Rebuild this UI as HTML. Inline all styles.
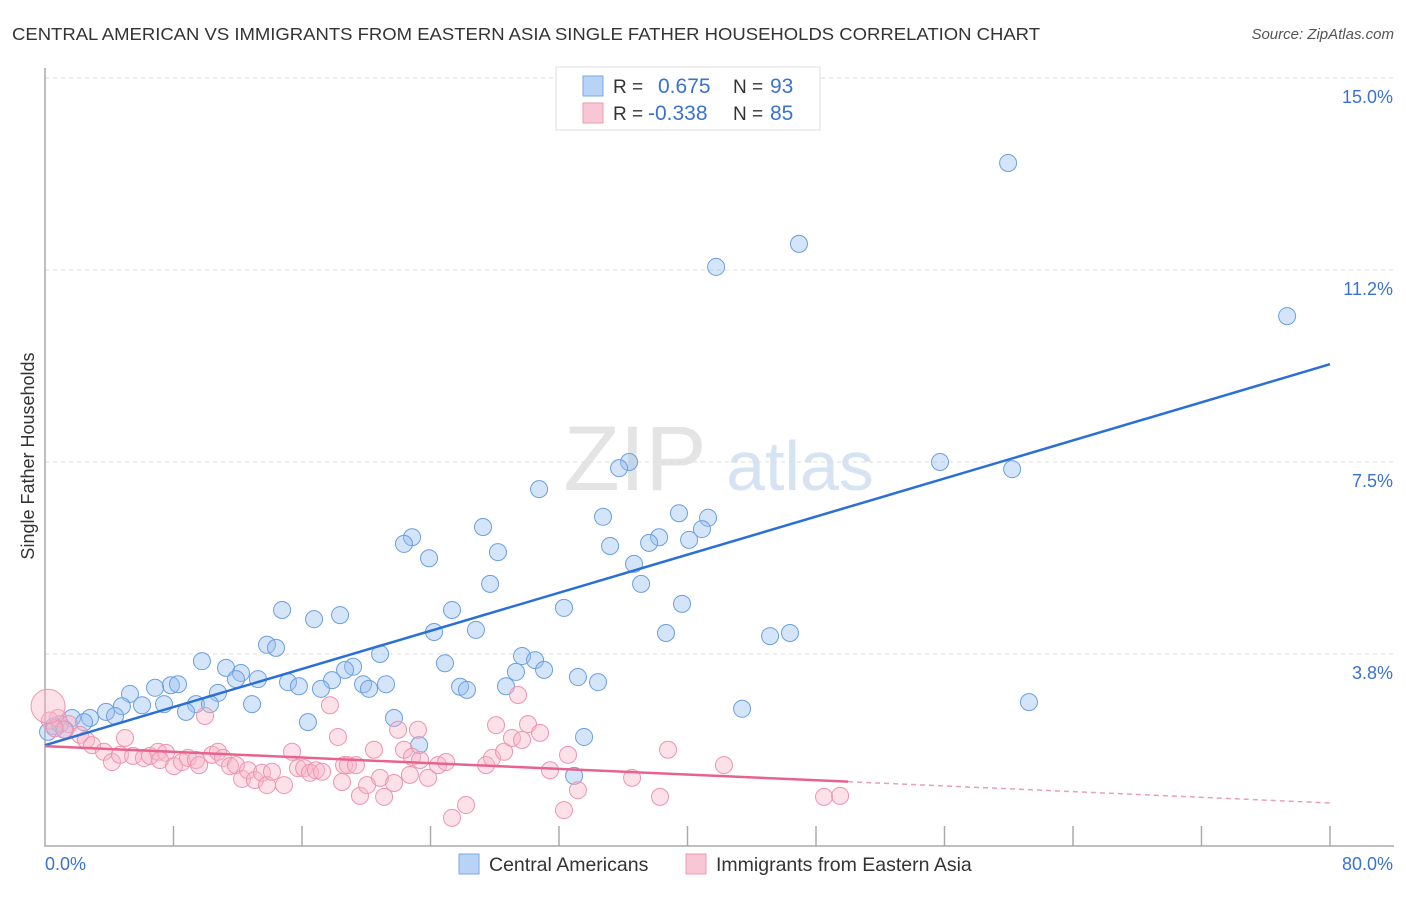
<!DOCTYPE html>
<html><head><meta charset="utf-8"><style>
body{margin:0;background:#fff;font-family:"Liberation Sans",sans-serif;}
svg text{font-family:"Liberation Sans",sans-serif;}
</style></head><body>
<svg id="chart" width="1406" height="892" viewBox="0 0 1406 892">
<text x="12" y="40" font-size="17.5" fill="#333" textLength="1028" lengthAdjust="spacingAndGlyphs">CENTRAL AMERICAN VS IMMIGRANTS FROM EASTERN ASIA SINGLE FATHER HOUSEHOLDS CORRELATION CHART</text>
<text x="1394" y="39" font-size="15" fill="#555" font-style="italic" text-anchor="end">Source: ZipAtlas.com</text>
<text x="635" y="490" font-size="92" fill="#e4e4e4" font-family="Liberation Serif" text-anchor="middle">ZIP</text>
<text x="800" y="490" font-size="70" fill="#d6e3f3" text-anchor="middle">atlas</text>
<text transform="translate(34,456) rotate(-90)" font-size="18" fill="#333" text-anchor="middle">Single Father Households</text>
<g id="grid"></g><g id="axes"></g><g id="pts"></g><g id="trend"></g>
<g>
<rect x="556" y="67" width="264" height="63" fill="#fff" stroke="#ddd"/>
<rect x="583" y="76" width="20" height="20" fill="#b8d3f5" stroke="#7aa8e3"/>
<rect x="583" y="103" width="20" height="20" fill="#f9c6d5" stroke="#ee9ab3"/>
<text x="613" y="93" font-size="19" fill="#333">R = </text><text x="658" y="93" font-size="21" fill="#3a72d0">0.675</text>
<text x="733" y="93" font-size="19" fill="#333">N = </text><text x="770" y="93" font-size="21" fill="#3a72d0">93</text>
<text x="613" y="120" font-size="19" fill="#333">R = </text><text x="648" y="120" font-size="21" fill="#3a72d0">-0.338</text>
<text x="733" y="120" font-size="19" fill="#333">N = </text><text x="770" y="120" font-size="21" fill="#3a72d0">85</text>
</g>
<g>
<rect x="459" y="854" width="20" height="20" fill="#b8d3f5" stroke="#7aa8e3"/>
<text x="489" y="871" font-size="19.5" fill="#333">Central Americans</text>
<rect x="686" y="854" width="20" height="20" fill="#f9c6d5" stroke="#ee9ab3"/>
<text x="716" y="871" font-size="19.5" fill="#333">Immigrants from Eastern Asia</text>
</g>
</svg>
<script>
const blueX=[59.96,46.94,41.78,77.33,55.72,60.21,36.36,35.74,30.76,39.47,41.28,34.74,27.27,40.90,22.85,22.35,40.10,38.23,37.61,35.18,28.20,23.91,36.67,27.71,37.11,14.76,25.34,32.31,39.66,16.75,18.37,24.22,26.83,38.66,45.14,46.38,13.82,14.38,20.86,29.70,30.51,9.77,24.90,11.27,19.18,12.20,18.68,31.07,29.32,33.18,11.89,13.26,17.87,15.13,34.43,19.80,21.23,7.84,8.28,25.84,15.81,17.18,6.85,20.17,26.27,28.70,5.29,10.77,9.40,10.27,61.26,12.89,6.04,7.41,4.79,8.78,3.80,43.40,4.36,1.68,21.73,2.80,16.37,2.43,0.93,0.56,1.25,0.19,33.56,23.29,32.94];
const blueY=[13.34,11.76,11.31,10.35,7.50,7.36,7.50,7.38,6.97,6.50,6.41,6.43,6.23,6.19,6.03,5.90,5.98,6.03,5.92,5.86,5.74,5.62,5.51,5.12,5.12,4.61,4.61,4.65,4.73,4.43,4.51,4.18,4.22,4.16,4.10,4.16,3.93,3.87,3.75,3.71,3.63,3.61,3.57,3.48,3.50,3.38,3.44,3.44,3.40,3.30,3.26,3.26,3.24,3.20,3.20,3.16,3.16,3.14,3.16,3.11,3.12,3.07,3.09,3.07,3.05,3.12,2.97,2.99,2.77,2.77,2.81,2.77,2.75,2.77,2.73,2.62,2.62,2.68,2.54,2.50,2.50,2.50,2.42,2.42,2.38,2.34,2.27,2.23,2.13,1.97,1.37];
const pinkX=[0.81,1.49,1.18,2.18,2.55,4.98,2.93,3.67,4.17,4.67,5.48,6.16,6.54,7.04,7.53,7.16,8.03,8.53,8.90,9.40,9.59,9.96,10.40,10.77,11.08,11.52,11.89,12.27,12.64,13.07,13.51,13.82,14.13,14.88,15.38,15.75,16.13,16.50,16.87,17.25,17.74,18.24,18.62,18.86,19.36,18.49,19.61,20.05,20.48,20.86,21.11,21.73,21.98,22.35,22.85,22.72,23.22,23.35,23.85,24.47,24.97,25.34,26.21,27.46,27.83,28.08,28.58,29.07,29.45,29.70,30.07,30.82,31.44,32.31,32.56,33.18,36.55,38.29,38.79,42.27,48.50,49.50,0.3,0.6];
const pinkY=[2.50,2.38,2.27,2.17,2.07,2.11,1.97,1.84,1.64,1.78,1.76,1.72,1.76,1.84,1.82,1.68,1.56,1.64,1.72,1.68,1.58,2.54,1.78,1.84,1.72,1.56,1.58,1.31,1.48,1.29,1.43,1.19,1.45,1.19,1.84,1.52,1.52,1.43,1.48,1.45,2.75,2.13,1.58,1.58,1.58,1.25,0.98,1.19,1.88,1.33,0.96,1.23,2.27,1.88,1.74,1.39,2.27,1.68,1.33,1.58,1.64,0.55,0.80,1.58,1.72,2.36,1.84,2.11,2.95,2.07,2.38,2.21,1.48,0.70,1.78,1.09,1.33,0.96,1.88,1.58,0.96,0.98,2.45,2.30];
const bigPinkX=[0.19],bigPinkY=[2.73];
const yTicks=[3.8,7.5,11.2,15.0];
const yTickPos=[3.75,7.5,11.25,15.0];
const blueTrend=[1.97,9.41];
const pinkTrend=[1.95,0.84];
const pinkSolidEnd=50;
const NS="http://www.w3.org/2000/svg";
const X=v=>45+v/80*1285, Y=v=>846-v/3.75*192;
function mk(t,a,p){const e=document.createElementNS(NS,t);for(const k in a)e.setAttribute(k,a[k]);p.appendChild(e);return e;}
const grid=document.getElementById('grid'),axes=document.getElementById('axes'),pts=document.getElementById('pts'),tr=document.getElementById('trend');
yTickPos.forEach((v,i)=>{
 const l=mk('line',{x1:45,x2:1394,y1:Y(v),y2:Y(v),stroke:'#ddd','stroke-dasharray':'4,4'},grid);
 
 
 const t=mk('text',{x:1393,y:Y(v)+25,'font-size':18,fill:'#3a72d0','text-anchor':'end'},axes);
 t.textContent=yTicks[i].toFixed(1)+'%';
 
 
});
const ax=mk('path',{d:'M45,68 V846 H1394',fill:'none',stroke:'#aaa','stroke-width':1.5},axes);


for(let i=1;i<=10;i++){const l=mk('line',{x1:X(i*8),x2:X(i*8),y1:826,y2:846,stroke:'#aaa','stroke-width':1.5},axes);
 
 }
[['0.0%',45,'start'],['80.0%',1393,'end']].forEach(a=>{const t=mk('text',{x:a[1],y:870,'font-size':18,fill:'#3a72d0','text-anchor':a[2]},axes);t.textContent=a[0];
 
 });
blueX.forEach((x,i)=>{const c=mk('circle',{cx:X(x),cy:Y(blueY[i]),r:8.5,fill:'rgba(150,190,240,0.4)',stroke:'#6a9fe0','stroke-width':1},pts);
 
 });
pinkX.forEach((x,i)=>{const c=mk('circle',{cx:X(x),cy:Y(pinkY[i]),r:8.5,fill:'rgba(248,180,200,0.4)',stroke:'#ee94b0','stroke-width':1},pts);
 
 });
bigPinkX.forEach((x,i)=>{const c=mk('circle',{cx:X(x),cy:Y(bigPinkY[i]),r:17,fill:'rgba(248,180,200,0.4)',stroke:'#ee94b0','stroke-width':1},pts);
 
 });
const bl=mk('line',{x1:X(0),y1:Y(blueTrend[0]),x2:X(80),y2:Y(blueTrend[1]),stroke:'#2a6fd6','stroke-width':2.5},tr);


const py=x=>pinkTrend[0]+(pinkTrend[1]-pinkTrend[0])*x/80;
const pl=mk('line',{x1:X(0),y1:Y(py(0)),x2:X(pinkSolidEnd),y2:Y(py(pinkSolidEnd)),stroke:'#e8628e','stroke-width':2.5},tr);


const pd=mk('line',{x1:X(pinkSolidEnd),y1:Y(py(pinkSolidEnd)),x2:X(80),y2:Y(py(80)),stroke:'#e8a0b8','stroke-width':1.5,'stroke-dasharray':'5,4'},tr);


</script>
</body></html>
